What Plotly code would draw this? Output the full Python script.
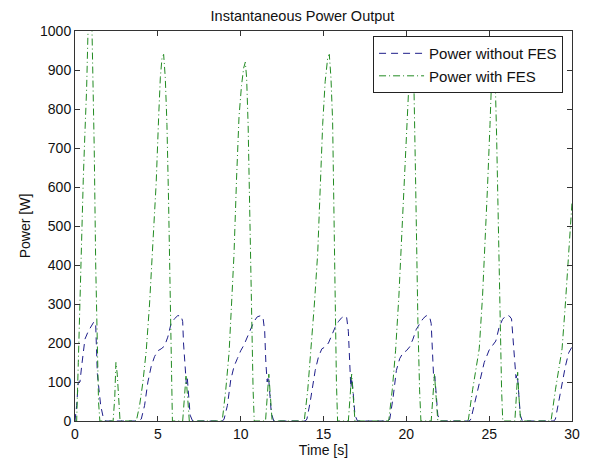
import plotly.graph_objects as go

# Power without FES (time [s], power [W])
t_without = [
    0, 0.1, 0.2, 0.3, 0.4, 0.5, 0.6, 0.8, 1.0, 1.15, 1.25, 1.3, 1.35, 1.45, 1.55, 1.7, 1.85,
    2.5, 3.8,
    4.0, 4.2, 4.4, 4.6, 4.8, 5.0, 5.2, 5.4, 5.6, 5.8, 6.0, 6.2, 6.4, 6.5, 6.55, 6.65, 6.72, 6.78, 6.85, 6.95, 7.1,
    8.0, 8.9,
    9.0, 9.2, 9.4, 9.6, 9.8, 10.0, 10.2, 10.4, 10.6, 10.8, 11.0, 11.2, 11.35, 11.45, 11.52, 11.6, 11.68, 11.75, 11.85, 12.0,
    13.0, 13.9,
    14.0, 14.2, 14.5, 14.7, 14.9, 15.1, 15.3, 15.5, 15.7, 15.9, 16.1, 16.3, 16.4, 16.5, 16.58, 16.65, 16.72, 16.8, 16.9, 17.05,
    18.0, 18.9,
    19.0, 19.2, 19.4, 19.6, 19.8, 20.0, 20.2, 20.4, 20.6, 20.8, 21.0, 21.2, 21.4, 21.5, 21.58, 21.65, 21.72, 21.8, 21.9, 22.05,
    23.0, 23.8,
    23.9, 24.1, 24.4, 24.7, 25.0, 25.2, 25.4, 25.6, 25.8, 26.0, 26.2, 26.35, 26.45, 26.52, 26.62, 26.7, 26.78, 26.88, 27.0,
    28.0, 28.9,
    29.0, 29.2, 29.4, 29.6, 29.8, 30.0,
]
p_without = [
    0, 40, 100, 100, 140, 185, 210, 230, 245, 255, 245, 180, 120, 80, 40, 10, 0,
    0, 0,
    5, 40, 100, 140, 165, 180, 185, 192, 215, 250, 262, 270, 270, 255, 200, 130, 95, 110, 60, 15, 0,
    0, 0,
    5, 40, 105, 140, 160, 180, 195, 215, 235, 255, 267, 270, 265, 230, 150, 100, 115, 80, 20, 0,
    0, 0,
    5, 50, 130, 165, 185, 190, 200, 220, 240, 255, 265, 270, 265, 230, 150, 85, 110, 60, 15, 0,
    0, 0,
    5, 60, 130, 160, 175, 180, 190, 210, 235, 250, 262, 270, 268, 250, 170, 110, 115, 60, 15, 0,
    0, 0,
    5, 40, 100, 150, 182, 195, 205, 240, 260, 270, 270, 262, 200, 150, 110, 120, 60, 15, 0,
    0, 0,
    5, 50, 100, 140, 175, 190,
]

# Power with FES (time [s], power [W])
t_with = [
    0, 0.1, 0.2, 0.35, 0.5, 0.6, 0.7, 0.78, 0.9, 1.0, 1.08, 1.16, 1.25, 1.33, 1.42, 1.5,
    2.3, 2.4, 2.47, 2.55, 2.65, 2.72, 3.7,
    3.75, 3.9, 4.1, 4.3, 4.5, 4.7, 4.9, 5.05, 5.15, 5.25, 5.35, 5.45, 5.55, 5.65, 5.72, 5.8, 5.88,
    6.5, 6.6, 6.7, 6.8, 6.9, 8.8,
    8.9, 9.1, 9.3, 9.45, 9.6, 9.75, 9.9, 10.05, 10.18, 10.28, 10.36, 10.45, 10.55, 10.65, 10.75, 10.82,
    11.5, 11.6, 11.7, 11.8, 11.9, 13.8,
    13.85, 14.05, 14.25, 14.45, 14.65, 14.8, 14.95, 15.1, 15.25, 15.35, 15.45, 15.55, 15.62, 15.7, 15.78, 15.85,
    16.5, 16.6, 16.7, 16.8, 16.9, 18.9,
    18.95, 19.15, 19.35, 19.55, 19.7, 19.85, 20.0, 20.15, 20.3, 20.45, 20.55, 20.62, 20.7, 20.8, 20.88,
    21.5, 21.6, 21.7, 21.8, 21.9, 23.7,
    23.75, 24.0, 24.2, 24.4, 24.6, 24.75, 24.9, 25.05, 25.15, 25.25, 25.35, 25.45, 25.55, 25.65, 25.75, 25.82,
    26.55, 26.65, 26.72, 26.8, 26.9, 28.7,
    28.75, 29.0, 29.2, 29.4, 29.6, 29.8, 29.9, 30.0,
]
p_with = [
    0, 0, 150, 400, 620, 740, 850, 990, 1080, 1060, 900, 700, 400, 200, 50, 0,
    0, 60, 150, 120, 30, 0, 0,
    10, 40, 100, 180, 300, 460, 610, 780, 880, 930, 940, 880, 760, 560, 350, 150, 0,
    0, 60, 115, 60, 0, 0,
    5, 80, 175, 300, 430, 620, 780, 860, 905, 920, 880, 760, 500, 280, 80, 0,
    0, 60, 120, 60, 0, 0,
    5, 80, 180, 300, 430, 600, 760, 870, 930, 940, 880, 770, 550, 300, 100, 0,
    0, 60, 120, 60, 0, 0,
    5, 80, 180, 320, 450, 600, 720, 860, 900, 880, 640, 450, 250, 80, 0,
    0, 60, 120, 60, 0, 0,
    5, 80, 130, 185, 320, 450, 600, 760, 880, 930, 900, 730, 500, 280, 80, 0,
    0, 70, 125, 60, 0, 0,
    5, 80, 130, 185, 300, 440, 520, 560,
]

x_ticks = [0, 5, 10, 15, 20, 25, 30]
y_ticks = [0, 100, 200, 300, 400, 500, 600, 700, 800, 900, 1000]

FONT = "Liberation Sans, Arial, sans-serif"
TXT = "#111111"

fig = go.Figure()
fig.add_trace(go.Scatter(
    x=t_without, y=p_without, mode="lines", name="Power without FES",
    line=dict(color="#1e1e8a", width=1, dash="7px,5px"),
))
fig.add_trace(go.Scatter(
    x=t_with, y=p_with, mode="lines", name="Power with FES",
    line=dict(color="#228b22", width=1, dash="7px,3px,1px,3px"),
))

axis_common = dict(
    showline=True, linecolor="#333333", linewidth=1, mirror="ticks",
    ticks="inside", ticklen=5, tickcolor="#333333",
    showgrid=False, zeroline=False, automargin=False,
    tickfont=dict(family=FONT, size=14, color=TXT),
)

# page has an 8px body margin, so the figure is sized to fit the 597x464 window
fig.update_layout(
    width=589, height=456,
    paper_bgcolor="white", plot_bgcolor="white",
    margin=dict(l=67, r=25, t=23, b=43),
    title=dict(text="Instantaneous Power Output", x=0.5, xanchor="center",
               y=1 - 8 / 456, yanchor="middle",
               font=dict(family=FONT, size=14.5, color=TXT)),
    xaxis=dict(range=[0, 30], tickvals=x_ticks, ticktext=[str(v) for v in x_ticks],
               title=dict(text="Time [s]", standoff=2,
                          font=dict(family=FONT, size=14, color=TXT)),
               **axis_common),
    yaxis=dict(range=[0, 1000], tickvals=y_ticks, ticktext=[str(v) for v in y_ticks],
               title=dict(text="Power [W]", standoff=6,
                          font=dict(family=FONT, size=14, color=TXT)),
               **axis_common),
    legend=dict(x=0.982, y=0.987, xanchor="right", yanchor="top",
                bgcolor="white", bordercolor="#222222", borderwidth=1,
                font=dict(family=FONT, size=15, color=TXT),
                itemwidth=45, tracegroupgap=0),
    showlegend=True,
)

fig.write_html("out.html")
